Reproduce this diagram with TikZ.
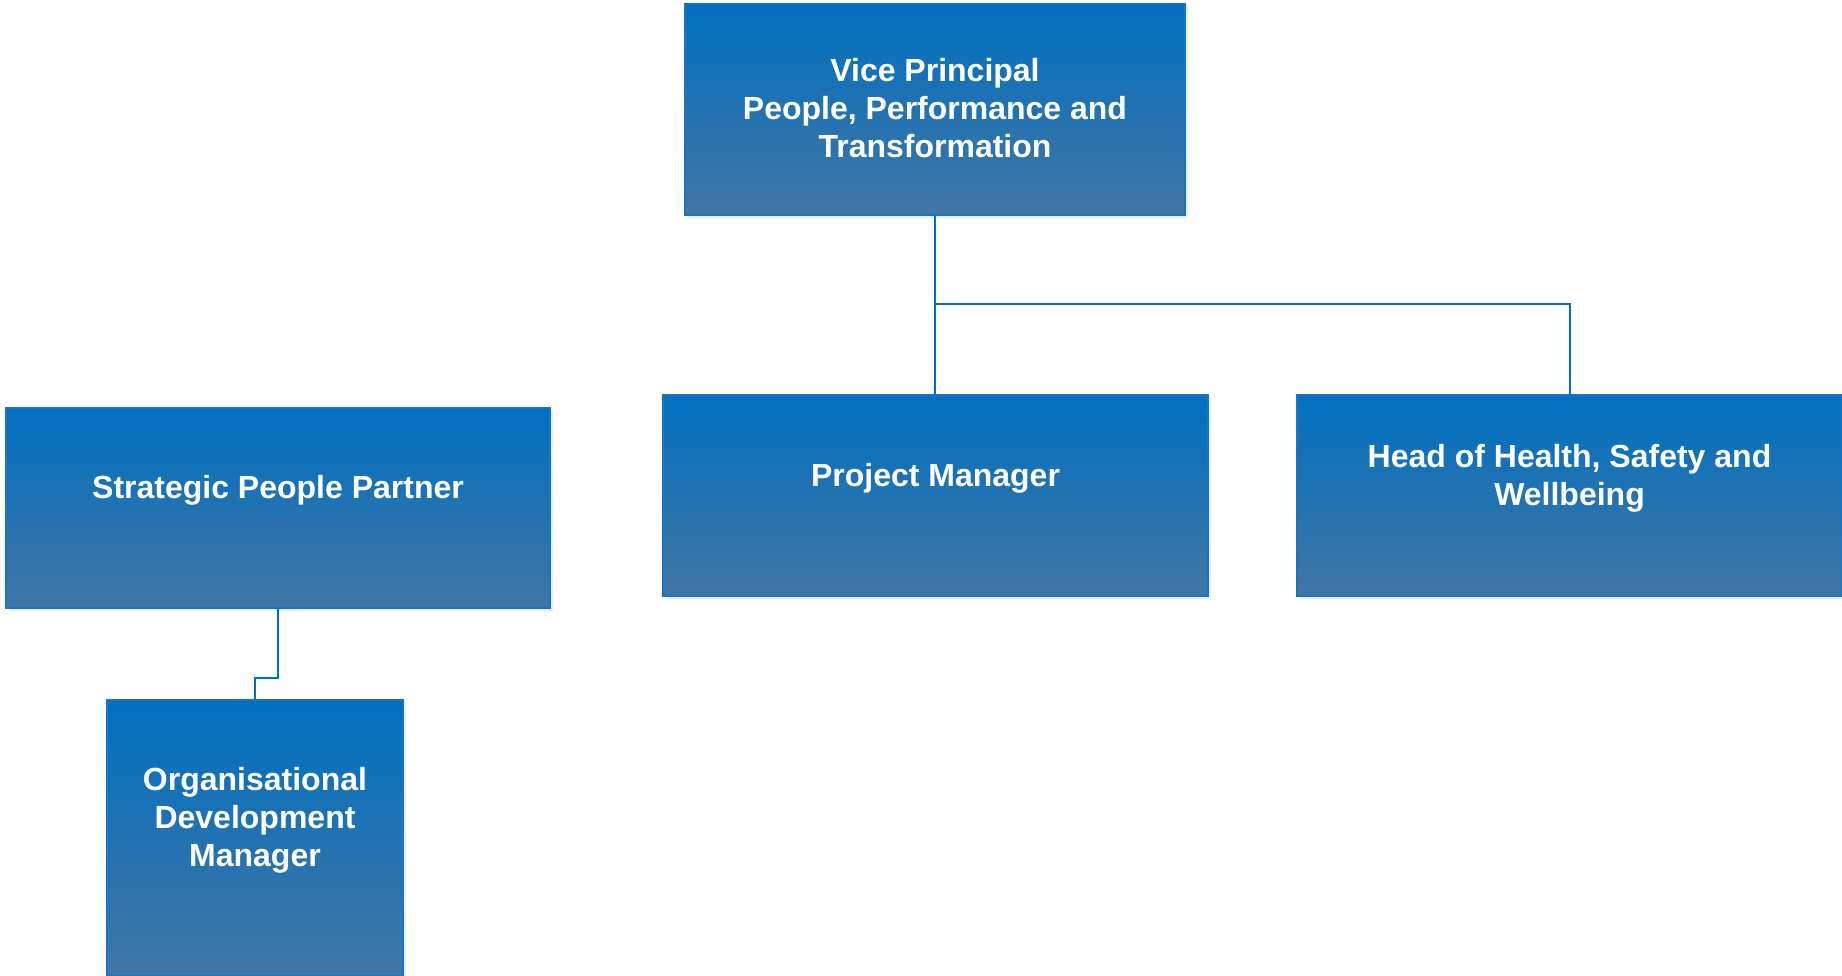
\documentclass[tikz,border=0pt]{standalone}
\usepackage{fontspec}
\setmainfont{Liberation Sans}
\usetikzlibrary{positioning,shadows}
\definecolor{boxtop}{RGB}{0,112,192}
\definecolor{boxbot}{RGB}{66,118,164}
\definecolor{boxline}{RGB}{26,116,198}
\definecolor{linkblue}{RGB}{0,112,192}
\begin{document}
\begin{tikzpicture}[x=0.5pt,y=-0.5pt,post/.style={shape=rectangle,draw=boxline,line width=0.6pt,inner sep=0,outer sep=0,top color=boxtop,bottom color=boxbot,drop shadow={shadow xshift=1.5pt,shadow yshift=-1.5pt,fill=boxline!12,opacity=1}},posttext/.style={text=white,font=\bfseries\fontsize{16}{19}\selectfont,align=center},posttextU/.style={posttext,yshift=8.8pt},link/.style={draw=linkblue,line width=1pt}]
\useasboundingbox (0,0) rectangle (1842,975);

\node[post,minimum width=250pt,minimum height=105.75pt] (VP) at (935,109.25) {};
\node[posttext,yshift=0.5pt] (VPt) at (VP.center) {Vice Principal\\People, Performance and\\Transformation};

\node[post,minimum width=272pt,minimum height=100pt] (SPP) at (278,508) {};
\node[posttextU] (SPPt) at (SPP.center) {Strategic People Partner};

\node[post,minimum width=272.5pt,minimum height=100.5pt] (PM) at (935.5,495.5) {};
\node[posttextU] (PMt) at (PM.center) {Project Manager};

\node[post,minimum width=272.5pt,minimum height=100.5pt] (HS) at (1569.5,495.5) {};
\node[posttextU] (HSt) at (HS.center) {Head of Health, Safety and\\Wellbeing};

\node[post,minimum width=148pt,minimum height=138pt] (ODM) at (255,838) {};
\node[posttextU] (ODMt) at (ODM.center) {Organisational\\Development\\Manager};

\coordinate (bus) at (935,304);
\coordinate (jog) at (278,678);
\draw[link] (VP.south) -- (VP.south |- PM.north);
\draw[link] (VP.south |- bus) -| (HS.north);
\draw[link] (SPP.south) -- (jog) -| (ODM.north);
\end{tikzpicture}
\end{document}
